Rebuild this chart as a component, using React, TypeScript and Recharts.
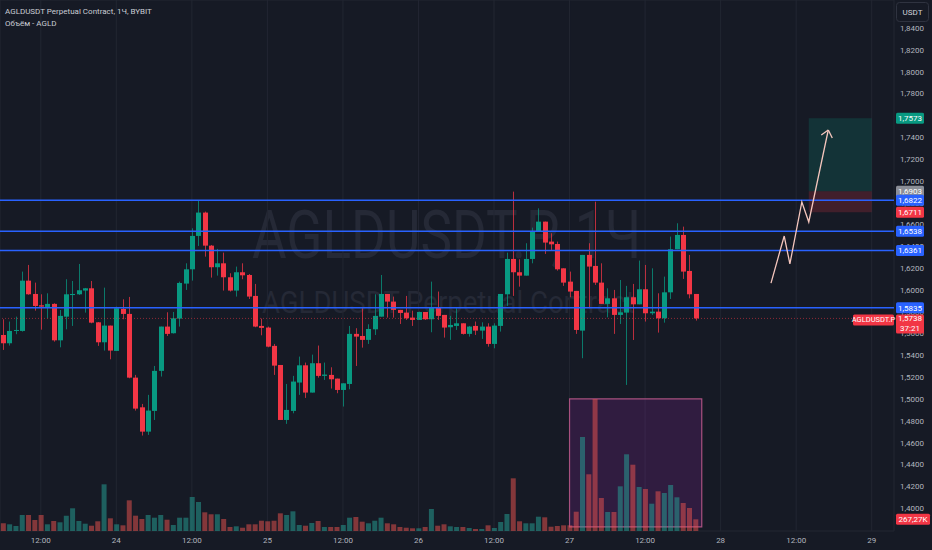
import React from 'react';
import {
  ComposedChart,
  Bar,
  Cell,
  XAxis,
  YAxis,
  CartesianGrid,
  ReferenceLine,
  ReferenceArea,
  Scatter,
} from 'recharts';

const W = 932;
const H = 550;
const BG = '#161a25';
const UP = '#089981';
const DOWN = '#f23645';
const BLUE = '#2962ff';
const FONT = 'Roboto, "Noto Sans", sans-serif';

// hourly candles, 23 06:00 .. 27 20:00
const opens = [
  1.5586, 1.551, 1.5623, 1.5623, 1.6084, 1.5962, 1.5858, 1.5843, 1.5871, 1.5537,
  1.5754, 1.5952, 1.5959, 1.5993, 1.6014, 1.5702, 1.5519, 1.5672, 1.544, 1.5825,
  1.5779, 1.5195, 1.4923, 1.47, 1.489, 1.5257, 1.5663, 1.5602, 1.5736, 1.6057,
  1.6188, 1.6494, 1.6708, 1.6405, 1.6207, 1.6243, 1.6115, 1.5993, 1.6161, 1.6136,
  1.5944, 1.5669, 1.5654, 1.5486, 1.5311, 1.4807, 1.489, 1.515, 1.5308, 1.5058,
  1.5327, 1.5211, 1.522, 1.5186, 1.5082, 1.5137, 1.5596, 1.5577, 1.5541, 1.5638,
  1.5754, 1.5962, 1.5892, 1.5816, 1.5791, 1.5745, 1.5724, 1.5797, 1.573, 1.5837,
  1.577, 1.5657, 1.5669, 1.5693, 1.5596, 1.5669, 1.5626, 1.5663, 1.5504, 1.5669,
  1.5959, 1.6283, 1.6161, 1.613, 1.6283, 1.6533, 1.6625, 1.6442, 1.642, 1.6197,
  1.6075, 1.599, 1.5626, 1.632, 1.6219, 1.6066, 1.5871, 1.5922, 1.577, 1.5791,
  1.5932, 1.5867, 1.6005, 1.5785, 1.58, 1.5739, 1.5977, 1.6372, 1.6503, 1.6173,
  1.5962,
];
const highs = [
  1.573, 1.5709, 1.5754, 1.6167, 1.6228, 1.6066, 1.5959, 1.5968, 1.5877, 1.5815,
  1.6097, 1.6081, 1.6237, 1.6017, 1.6081, 1.5705, 1.602, 1.5672, 1.5846, 1.5913,
  1.5935, 1.522, 1.4954, 1.5037, 1.5302, 1.5663, 1.5794, 1.5797, 1.6075, 1.6243,
  1.6564, 1.6818, 1.6717, 1.6411, 1.6375, 1.6341, 1.6152, 1.6213, 1.6243, 1.6145,
  1.6054, 1.5736, 1.5663, 1.5504, 1.5311, 1.5137, 1.5211, 1.5388, 1.5333, 1.5406,
  1.5489, 1.5333, 1.529, 1.5186, 1.5143, 1.5669, 1.5648, 1.5831, 1.5684, 1.5959,
  1.6136, 1.5962, 1.5938, 1.5816, 1.5944, 1.5809, 1.58, 1.5797, 1.6075, 1.5984,
  1.577, 1.5761, 1.5831, 1.5693, 1.5669, 1.5709, 1.5702, 1.5693, 1.5693, 1.5962,
  1.6341, 1.69, 1.628, 1.6427, 1.657, 1.6747, 1.6625, 1.6518, 1.6442, 1.6197,
  1.6167, 1.599, 1.632, 1.6427, 1.6808, 1.6243, 1.6014, 1.5999, 1.609, 1.6036,
  1.6054, 1.6268, 1.6228, 1.6197, 1.5968, 1.6121, 1.6488, 1.661, 1.6579, 1.632,
  1.5962,
];
const lows = [
  1.5449, 1.5489, 1.5593, 1.5617, 1.5955, 1.5809, 1.5635, 1.5739, 1.5525, 1.5473,
  1.5638, 1.5669, 1.5953, 1.5791, 1.5693, 1.5486, 1.5443, 1.5363, 1.544, 1.573,
  1.5189, 1.4893, 1.4664, 1.467, 1.4807, 1.5205, 1.5577, 1.5599, 1.5663, 1.5999,
  1.6084, 1.6402, 1.6304, 1.6112, 1.613, 1.5993, 1.5984, 1.5938, 1.6097, 1.5916,
  1.5657, 1.5583, 1.5473, 1.522, 1.4807, 1.4771, 1.4868, 1.5037, 1.5009, 1.5058,
  1.5195, 1.5174, 1.5095, 1.5052, 1.493, 1.5088, 1.5302, 1.547, 1.5504, 1.5586,
  1.5754, 1.5745, 1.5745, 1.5687, 1.5724, 1.5669, 1.5724, 1.5724, 1.5611, 1.5724,
  1.5562, 1.5541, 1.5632, 1.559, 1.5571, 1.5586, 1.555, 1.5479, 1.5464, 1.5617,
  1.5852, 1.5944, 1.6029, 1.613, 1.6243, 1.6533, 1.6329, 1.6365, 1.6176, 1.6036,
  1.5932, 1.5596, 1.5373, 1.5831, 1.6045, 1.5871, 1.5748, 1.5596, 1.5687, 1.5128,
  1.554, 1.5867, 1.5709, 1.577, 1.5608, 1.5699, 1.5916, 1.6372, 1.61, 1.5922,
  1.5718,
];
const closes = [
  1.551, 1.5623, 1.5632, 1.6084, 1.5959, 1.5852, 1.5846, 1.5871, 1.5537, 1.5761,
  1.5959, 1.5962, 1.5996, 1.6014, 1.5699, 1.5519, 1.5672, 1.5443, 1.5831, 1.5779,
  1.5195, 1.4911, 1.47, 1.4893, 1.5257, 1.5663, 1.5596, 1.5739, 1.6063, 1.6188,
  1.6494, 1.6708, 1.6405, 1.6207, 1.6243, 1.6115, 1.5993, 1.6161, 1.6133, 1.5938,
  1.5663, 1.5651, 1.5479, 1.5305, 1.4807, 1.4899, 1.5159, 1.5308, 1.5058, 1.5327,
  1.5211, 1.5223, 1.518, 1.5082, 1.5143, 1.5596, 1.5571, 1.5541, 1.5641, 1.5761,
  1.5962, 1.5892, 1.5816, 1.5788, 1.5739, 1.5724, 1.5797, 1.573, 1.5837, 1.5761,
  1.5654, 1.5678, 1.5693, 1.5596, 1.5663, 1.5626, 1.5663, 1.5504, 1.5672, 1.5962,
  1.6283, 1.6161, 1.613, 1.6283, 1.6533, 1.6625, 1.6433, 1.6417, 1.6188, 1.6066,
  1.5984, 1.5632, 1.632, 1.6213, 1.6066, 1.5871, 1.5922, 1.577, 1.5794, 1.5932,
  1.5867, 1.6005, 1.5785, 1.58, 1.5739, 1.5977, 1.6372, 1.6503, 1.6167, 1.5959,
  1.5738,
];
// volume, thousands AGLD
const volumes = [
  176, 153, 114, 366, 366, 251, 366, 153, 229, 199,
  350, 519, 229, 167, 121, 222, 1067, 290, 153, 130,
  701, 350, 274, 366, 304, 366, 258, 137, 304, 304,
  777, 663, 427, 382, 382, 274, 91, 107, 75, 153,
  153, 235, 222, 235, 404, 366, 450, 137, 121, 183,
  229, 91, 91, 91, 137, 304, 320, 213, 176, 235,
  304, 176, 153, 91, 75, 62, 62, 91, 503, 121,
  153, 107, 91, 91, 69, 46, 46, 130, 69, 206,
  388, 1204, 222, 176, 176, 327, 313, 98, 114, 130,
  130, 441, 2148, 1296, 3016, 754, 434, 434, 1021, 1753,
  1515, 1005, 960, 624, 907, 868, 1051, 770, 640, 526,
  267.27,
];

const timeTicks = [6, 18, 30, 42, 54, 66, 78, 90, 102, 114, 126, 138];
const timeLabels = ['12:00', '24', '12:00', '25', '12:00', '26', '12:00', '27', '12:00', '28', '12:00', '29'];
const priceTicks = [
  1.4, 1.42, 1.44, 1.46, 1.48, 1.5, 1.52, 1.54, 1.56, 1.58, 1.6, 1.62,
  1.64, 1.66, 1.68, 1.7, 1.72, 1.74, 1.76, 1.78, 1.8, 1.82, 1.84,
];

const levels = [1.6822, 1.6538, 1.6361, 1.5835];
const posFrom = 128;
const posTo = 138;
const posEntry = 1.6903;
const posTarget = 1.7573;
const posStop = 1.6711;
const arrowT = [122.0, 124.1, 125.0, 126.9, 128.0, 131.1];
const arrowP = [1.6062, 1.6493, 1.6237, 1.6805, 1.6622, 1.7465];
const boxFrom = 90;
const boxTo = 111;
const boxTop = 1.5;
const boxBottom = 1.3826;
const countdown = '37:21';

const candles = opens.map((open, i) => ({
  t: i,
  open,
  high: highs[i],
  low: lows[i],
  close: closes[i],
  vol: volumes[i],
}));
const arrow = arrowT.map((t, i) => ({ t, p: arrowP[i] }));
const lastT = arrowT[arrowT.length - 1];
const lastClose = closes[closes.length - 1];
const lastVol = volumes[volumes.length - 1];

const fmt = (v: number) => v.toFixed(4).replace('.', ',');
const fmtK = (v: number) => v.toFixed(2).replace('.', ',') + 'K';

const Candle = (props: any) => {
  const { x, y, width, height, payload } = props;
  const { open, close, high, low } = payload;
  const top = Math.min(y, y + height);
  const h = Math.abs(height);
  const k = high > low ? h / (high - low) : 0;
  const yo = top + (high - open) * k;
  const yc = top + (high - close) * k;
  const color = close >= open ? UP : DOWN;
  const cx = Math.round(x + width / 2) + 0.5;
  return (
    <g>
      <line x1={cx} x2={cx} y1={top} y2={top + h} stroke={color} strokeOpacity={0.75} />
      <rect x={cx - width / 2 - 0.5} y={Math.min(yo, yc)} width={width + 1} height={Math.max(Math.abs(yc - yo), 1)} fill={color} />
    </g>
  );
};

// price scale label, drawn as a reference-line label so the tags can cover it
const tickText = (v: number) => (p: any) => {
  const vb = p.viewBox;
  return (
    <text x={vb.x + vb.width + 6} y={vb.y + 3} fontSize={8} fontFamily={FONT} fill="#b2b5be">
      {fmt(v)}
    </text>
  );
};

const tag = (text: string, bg: string, w = 28) => (p: any) => {
  const vb = p.viewBox;
  const x = vb.x + vb.width + 2;
  return (
    <g>
      <rect x={x} y={vb.y - 5.5} width={w} height={11} rx={1.5} fill={bg} />
      <text x={x + w / 2} y={vb.y + 3} textAnchor="middle" fontSize={8} fontFamily={FONT} fill="#ffffff">
        {text}
      </text>
    </g>
  );
};

const lastTag = (p: any) => {
  const vb = p.viewBox;
  const x = vb.x + vb.width + 2;
  return (
    <g>
      <rect x={x - 43} y={vb.y - 4} width={41} height={11} rx={1.5} fill={DOWN} />
      <text x={x - 22.5} y={vb.y + 4} textAnchor="middle" fontSize={7.5} fontFamily={FONT} fill="#ffffff">
        AGLDUSDT.P
      </text>
      <rect x={x} y={vb.y - 4} width={28} height={19} rx={1.5} fill={DOWN} />
      <text x={x + 14} y={vb.y + 3} textAnchor="middle" fontSize={8} fontFamily={FONT} fill="#ffffff">
        {fmt(lastClose)}
      </text>
      <text x={x + 14} y={vb.y + 13} textAnchor="middle" fontSize={8} fontFamily={FONT} fill="#ffffff">
        {countdown}
      </text>
    </g>
  );
};

const ArrowPoint = (p: any) => {
  if (!p.payload || p.payload.t !== lastT) return <g />;
  const { cx, cy } = p;
  return (
    <g stroke="#f5c6bd" strokeWidth={1.3} fill="none">
      <line x1={cx} y1={cy} x2={cx - 7} y2={cy + 5} />
      <line x1={cx} y1={cy} x2={cx + 4} y2={cy + 8} />
    </g>
  );
};

export default function App() {
  return (
    <div style={{ position: 'relative', width: W, height: H, background: BG, fontFamily: FONT }}>
      <style>{'body{margin:0;background:' + BG + ';}'}</style>
      <svg width={W} height={H} style={{ position: 'absolute', left: 0, top: 0 }}>
        <text x={252} y={258} fontSize={66} textLength={389} lengthAdjust="spacingAndGlyphs" fill="#252936" fontFamily={FONT}>
          AGLDUSDT.P, 1Ч
        </text>
        <text x={262} y={313} fontSize={32} textLength={373} lengthAdjust="spacingAndGlyphs" fill="#252936" fontFamily={FONT}>
          AGLDUSDT Perpetual Contract
        </text>
      </svg>
      <div style={{ position: 'absolute', left: 0, top: 0 }}>
        <ComposedChart width={W} height={H} data={candles} margin={{ top: 0, right: 0, bottom: 0, left: 0 }}>
          <CartesianGrid xAxisId="t" yAxisId="p" stroke="#222632" strokeWidth={1} />
          <XAxis
            xAxisId="t"
            dataKey="t"
            type="number"
            domain={[-0.477, 141.54]}
            allowDataOverflow
            ticks={timeTicks}
            tickFormatter={(v: number) => timeLabels[timeTicks.indexOf(v)] ?? ''}
            height={19}
            tickSize={0}
            tickMargin={6}
            axisLine={false}
            tickLine={false}
            tick={{ fill: '#b2b5be', fontSize: 8, fontFamily: FONT }}
            interval={0}
          />
          <XAxis xAxisId="v" dataKey="t" type="number" domain={[-0.477, 141.54]} allowDataOverflow hide />
          <YAxis
            yAxisId="p"
            orientation="right"
            width={38}
            type="number"
            domain={[1.37891, 1.86567]}
            allowDataOverflow
            ticks={priceTicks}
            interval={0}
            axisLine={false}
            tickLine={false}
            tick={false}
          />
          <YAxis yAxisId="vol" type="number" domain={[0, 12133]} allowDataOverflow hide />

          <ReferenceArea
            xAxisId="t"
            yAxisId="p"
            x1={boxFrom}
            x2={boxTo}
            y1={boxBottom}
            y2={boxTop}
            fill="#9c27b0"
            fillOpacity={0.2}
            stroke="#a8507f"
            strokeWidth={1.2}
            ifOverflow="visible"
          />
          <Bar xAxisId="v" yAxisId="vol" dataKey="vol" barSize={5} isAnimationActive={false}>
            {candles.map((d) => (
              <Cell key={d.t} fill={d.close >= d.open ? '#26a69a' : '#ef5350'} fillOpacity={0.5} />
            ))}
          </Bar>

          <ReferenceArea xAxisId="t" yAxisId="p" x1={posFrom} x2={posTo} y1={posEntry} y2={posTarget} fill={UP} fillOpacity={0.2} ifOverflow="visible" />
          <ReferenceArea xAxisId="t" yAxisId="p" x1={posFrom} x2={posTo} y1={posStop} y2={posEntry} fill={DOWN} fillOpacity={0.2} ifOverflow="visible" />

          {priceTicks.map((v) => (
            <ReferenceLine key={'pt' + v} xAxisId="t" yAxisId="p" y={v} strokeOpacity={0} label={tickText(v)} />
          ))}

          {levels.map((lv) => (
            <ReferenceLine key={lv} xAxisId="t" yAxisId="p" y={lv} stroke={BLUE} strokeWidth={1.5} />
          ))}
          <ReferenceLine xAxisId="t" yAxisId="p" y={lastClose} stroke={DOWN} strokeOpacity={0.55} strokeDasharray="1 2" />

          <Bar
            xAxisId="t"
            yAxisId="p"
            dataKey={(d: any) => [d.low, d.high]}
            barSize={4}
            shape={Candle}
            isAnimationActive={false}
          />

          <Scatter
            xAxisId="t"
            yAxisId="p"
            data={arrow}
            dataKey="p"
            line={{ stroke: '#f5c6bd', strokeWidth: 1.3 }}
            shape={ArrowPoint}
            isAnimationActive={false}
          />

          <ReferenceLine xAxisId="t" yAxisId="p" y={posTarget} strokeOpacity={0} label={tag(fmt(posTarget), UP)} />
          <ReferenceLine xAxisId="t" yAxisId="p" y={posEntry} strokeOpacity={0} label={tag(fmt(posEntry), '#8b8e97')} />
          <ReferenceLine xAxisId="t" yAxisId="p" y={posStop} strokeOpacity={0} label={tag(fmt(posStop), DOWN)} />
          {levels.map((lv) => (
            <ReferenceLine key={'t' + lv} xAxisId="t" yAxisId="p" y={lv} strokeOpacity={0} label={tag(fmt(lv), BLUE)} />
          ))}
          <ReferenceLine xAxisId="t" yAxisId="p" y={lastClose} strokeOpacity={0} label={lastTag} />
          <ReferenceLine xAxisId="v" yAxisId="vol" y={lastVol} strokeOpacity={0} label={tag(fmtK(lastVol), DOWN, 34)} />
        </ComposedChart>
      </div>
      <svg width={W} height={H} style={{ position: 'absolute', left: 0, top: 0, pointerEvents: 'none' }}>
        <text x={5} y={14} fontSize={8} fill="#c9ccd4" fontFamily={FONT}>
          AGLDUSDT Perpetual Contract, 1Ч, BYBIT
        </text>
        <text x={5} y={26} fontSize={8} fill="#c9ccd4" fontFamily={FONT}>
          Объём - AGLD
        </text>
        <rect x={896.5} y={2.5} width={32} height={19} rx={3} fill={BG} stroke="#2f3340" />
        <text x={912.5} y={15} textAnchor="middle" fontSize={8} fill="#d1d4dc" fontFamily={FONT}>
          USDT
        </text>
      </svg>
    </div>
  );
}
